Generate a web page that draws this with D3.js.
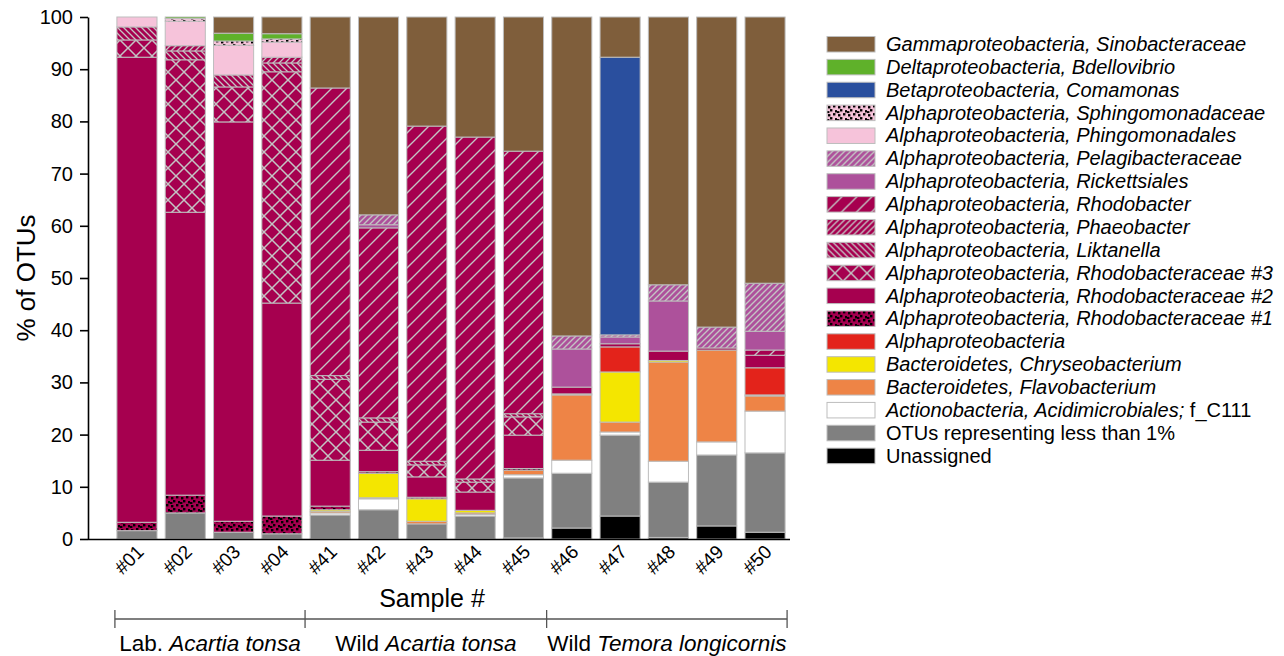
<!DOCTYPE html>
<html>
<head>
<meta charset="utf-8">
<script src="https://cdn.jsdelivr.net/npm/d3@7"></script>
<style>
  body { margin: 0; background: #fff; }
  svg text { font-family: "Liberation Sans", Arial, sans-serif; fill: #000; }
</style>
</head>
<body>
<svg id="chart" width="1284" height="656"></svg>
<script>
// samples along x
var samples = ["#01", "#02", "#03", "#04", "#41", "#42", "#43", "#44", "#45", "#46", "#47", "#48", "#49", "#50"];
var yTicks = [0, 10, 20, 30, 40, 50, 60, 70, 80, 90, 100];

// % of OTUs per sample, one array per taxon (stack order bottom -> top)
var unassigned        = [0, 0, 0, 0, 0, 0, 0, 0, 0.2, 2.1, 4.4, 0.3, 2.5, 1.3];
var otusLess1         = [1.6, 5.0, 1.3, 1.0, 4.6, 5.6, 2.9, 4.4, 11.5, 10.5, 15.5, 10.6, 13.6, 15.2];
var acidimicrobiales  = [0, 0, 0, 0, 0.4, 2.1, 0, 0.3, 0.6, 2.5, 0.6, 4.0, 2.5, 8.0];
var flavobacterium    = [0, 0, 0, 0, 0.3, 0.2, 0.5, 0.3, 0.9, 12.5, 1.9, 19.0, 17.6, 2.9];
var chryseobacterium  = [0, 0, 0, 0, 0.3, 4.7, 4.3, 0.5, 0, 0.2, 9.6, 0.3, 0, 0.2];
var alphaproteo       = [0, 0, 0, 0, 0, 0, 0, 0, 0, 0, 4.8, 0, 0, 5.2];
var rhodobacteraceae1 = [1.6, 3.4, 2.1, 3.4, 0.7, 0.3, 0.3, 0, 0.3, 0, 0, 0, 0, 0];
var rhodobacteraceae2 = [89.1, 54.2, 76.5, 40.8, 8.8, 4.1, 3.9, 3.5, 6.4, 1.3, 0.6, 1.8, 0.4, 2.4];
var rhodobacteraceae3 = [3.3, 29.2, 6.7, 44.3, 15.5, 5.4, 2.3, 1.9, 3.5, 0, 0, 0, 0, 0];
var liktanella        = [2.5, 1.7, 2.3, 1.7, 0.7, 0.8, 0.7, 0.6, 0.6, 0, 0, 0, 0, 0];
var phaeobacter       = [0, 1.0, 0, 1.1, 0, 0, 0, 0, 0, 0, 0, 0, 0, 0];
var rhodobacter       = [0, 0, 0, 0, 55.1, 36.4, 64.2, 65.5, 50.3, 0, 0, 0, 0, 1.0];
var rickettsiales     = [0, 0, 0, 0, 0, 0.6, 0, 0, 0, 7.3, 1.3, 9.6, 0, 3.6];
var pelagibacteraceae = [0, 0, 0, 0, 0, 1.9, 0, 0, 0, 2.5, 0.4, 3.1, 4.0, 9.2];
var phingomonadales   = [1.9, 4.7, 5.7, 2.9, 0, 0, 0, 0, 0, 0, 0, 0, 0, 0];
var sphingomonadaceae = [0, 0.5, 0.8, 0.6, 0, 0, 0, 0, 0, 0, 0, 0, 0, 0];
var comamonas         = [0, 0, 0, 0, 0, 0, 0, 0, 0, 0, 53.2, 0, 0, 0];
var bdellovibrio      = [0, 0.3, 1.5, 1.0, 0, 0, 0, 0, 0, 0, 0, 0, 0, 0];
var sinobacteraceae   = [0, 0, 3.1, 3.2, 13.6, 37.9, 20.9, 23.0, 25.7, 61.1, 7.7, 51.3, 59.4, 51.0];

var groupNames = ["Lab.|Acartia tonsa", "Wild|Acartia tonsa", "Wild|Temora longicornis"];
var groupEnds = ["#04", "#45", "#50"];

// legend order (top -> bottom); label parts: [italic, normal]
var taxa = [
  {key: "gamma", vals: sinobacteraceae, fill: "#7f5e3b", label: ["Gammaproteobacteria, Sinobacteraceae", ""]},
  {key: "delta", vals: bdellovibrio, fill: "#5fb12a", label: ["Deltaproteobacteria, Bdellovibrio", ""]},
  {key: "beta", vals: comamonas, fill: "#2a4f9e", label: ["Betaproteobacteria, Comamonas", ""]},
  {key: "sphingo", vals: sphingomonadaceae, fill: "url(#p-sphingo)", label: ["Alphaproteobacteria, Sphingomonadaceae", ""]},
  {key: "phingo", vals: phingomonadales, fill: "#f6c3da", label: ["Alphaproteobacteria, Phingomonadales", ""]},
  {key: "pelagi", vals: pelagibacteraceae, fill: "url(#p-pelagi)", label: ["Alphaproteobacteria, Pelagibacteraceae", ""]},
  {key: "ricket", vals: rickettsiales, fill: "#ad519b", label: ["Alphaproteobacteria, Rickettsiales", ""]},
  {key: "rhodobacter", vals: rhodobacter, fill: "url(#p-rhodobacter)", label: ["Alphaproteobacteria, Rhodobacter", ""]},
  {key: "phaeo", vals: phaeobacter, fill: "url(#p-phaeo)", label: ["Alphaproteobacteria, Phaeobacter", ""]},
  {key: "likt", vals: liktanella, fill: "url(#p-likt)", label: ["Alphaproteobacteria, Liktanella", ""]},
  {key: "rh3", vals: rhodobacteraceae3, fill: "url(#p-cross)", label: ["Alphaproteobacteria, Rhodobacteraceae #3", ""]},
  {key: "rh2", vals: rhodobacteraceae2, fill: "#a6004f", label: ["Alphaproteobacteria, Rhodobacteraceae #2", ""]},
  {key: "rh1", vals: rhodobacteraceae1, fill: "url(#p-rh1)", label: ["Alphaproteobacteria, Rhodobacteraceae #1", ""]},
  {key: "alpha", vals: alphaproteo, fill: "#e3231b", label: ["Alphaproteobacteria", ""]},
  {key: "chryseo", vals: chryseobacterium, fill: "#f4e600", label: ["Bacteroidetes, Chryseobacterium", ""]},
  {key: "flavo", vals: flavobacterium, fill: "#ee8446", label: ["Bacteroidetes, Flavobacterium", ""]},
  {key: "acid", vals: acidimicrobiales, fill: "#ffffff", label: ["Actionobacteria, Acidimicrobiales;", " f_C111"]},
  {key: "otus", vals: otusLess1, fill: "#808080", label: ["", "OTUs representing less than 1%"]},
  {key: "unas", vals: unassigned, fill: "#000000", label: ["", "Unassigned"]}
];

var svg = d3.select("#chart");
var magenta = "#a6004f", hatch = "#c4c4c4";
var defs = svg.append("defs");

function linePattern(id, size, bg, d, col, w) {
  var p = defs.append("pattern").attr("id", id).attr("patternUnits", "userSpaceOnUse")
    .attr("width", size).attr("height", size);
  p.append("rect").attr("width", size).attr("height", size).attr("fill", bg);
  p.append("path").attr("d", d).attr("stroke", col).attr("stroke-width", w).attr("fill", "none");
}
function fwd(s) { return "M" + (-s/2) + "," + (s/2) + "L" + (s/2) + "," + (-s/2) + "M0," + s + "L" + s + ",0M" + (s/2) + "," + (s*1.5) + "L" + (s*1.5) + "," + (s/2); }
function back(s) { return "M" + (-s/2) + "," + (s/2) + "L" + (s/2) + "," + (s*1.5) + "M0,0L" + s + "," + s + "M" + (s/2) + "," + (-s/2) + "L" + (s*1.5) + "," + (s/2); }

linePattern("p-rhodobacter", 15, magenta, fwd(15), hatch, 1.4);
linePattern("p-phaeo", 6, magenta, fwd(6), hatch, 1.3);
linePattern("p-likt", 6, magenta, back(6), hatch, 1.3);
linePattern("p-pelagi", 6, "#ad519b", fwd(6), hatch, 1.4);
linePattern("p-cross", 16, magenta, fwd(16) + back(16), hatch, 1.5);

function dotPattern(id, bg) {
  var p = defs.append("pattern").attr("id", id).attr("patternUnits", "userSpaceOnUse")
    .attr("width", 10).attr("height", 8);
  p.append("rect").attr("width", 10).attr("height", 8).attr("fill", bg);
  [[1, 1], [6, 0], [3, 4], [8, 5], [0, 6]].forEach(function(q) {
    p.append("rect").attr("x", q[0]).attr("y", q[1]).attr("width", 2.4).attr("height", 2.4).attr("fill", "#000");
  });
}
dotPattern("p-rh1", magenta);
dotPattern("p-sphingo", "#f6c3da");

var y = d3.scaleLinear().domain([0, 100]).range([539, 17]);
var x = d3.scaleBand().domain(samples).range([112.8, 789.2]).paddingInner(0.17).paddingOuter(0.085);

// stack, bottom -> top is reverse of legend
var stackOrder = taxa.slice().reverse();
var rows = samples.map(function(s, i) {
  var r = {sample: s};
  stackOrder.forEach(function(t) { r[t.key] = t.vals[i]; });
  return r;
});
var series = d3.stack().keys(stackOrder.map(function(t) { return t.key; }))(rows);
var fillOf = {};
taxa.forEach(function(t) { fillOf[t.key] = t.fill; });

svg.append("g").selectAll("g").data(series).enter().append("g")
  .attr("fill", function(d) { return fillOf[d.key]; })
  .selectAll("rect").data(function(d) { return d.filter(function(v) { return v[1] - v[0] > 0; }); })
  .enter().append("rect")
  .attr("x", function(d) { return x(d.data.sample); })
  .attr("width", x.bandwidth())
  .attr("y", function(d) { return y(d[1]); })
  .attr("height", function(d) { return y(d[0]) - y(d[1]); })
  .attr("stroke", "#bdbdbd")
  .attr("stroke-width", 1);

// y axis
var yAxis = svg.append("g").attr("transform", "translate(88,0)")
  .call(d3.axisLeft(y).tickValues(yTicks).tickSize(8).tickSizeOuter(0).tickPadding(7));
yAxis.select(".domain").attr("stroke", "#000").attr("stroke-width", 1.6);
yAxis.selectAll(".tick line").attr("stroke", "#000").attr("stroke-width", 1.6);
yAxis.selectAll("text").attr("font-size", 20).attr("font-family", "Liberation Sans, Arial, sans-serif");

// x axis line
svg.append("line").attr("x1", 88).attr("x2", 790).attr("y1", 539.5).attr("y2", 539.5)
  .attr("stroke", "#000").attr("stroke-width", 1.6);

// sample labels
svg.append("g").selectAll("text").data(samples).enter().append("text")
  .attr("text-anchor", "end")
  .attr("font-size", 19)
  .attr("transform", function(d) { return "translate(" + (x(d) + x.bandwidth() / 2 + 8) + ",553) rotate(-45)"; })
  .text(function(d) { return d; });

svg.append("text").attr("x", 432).attr("y", 607).attr("text-anchor", "middle").attr("font-size", 25).text("Sample #");
svg.append("text").attr("transform", "translate(35,278) rotate(-90)").attr("text-anchor", "middle").attr("font-size", 26).text("% of OTUs");

// group brackets
var bx = [x(samples[0]) - 2];
groupEnds.forEach(function(s, i) {
  var k = samples.indexOf(s);
  if (k < samples.length - 1) bx.push((x(s) + x.bandwidth() + x(samples[k + 1])) / 2 - 1);
  else bx.push(x(s) + x.bandwidth() + 2);
});
var br = svg.append("g").attr("stroke", "#555").attr("stroke-width", 1.3);
br.append("line").attr("x1", bx[0]).attr("x2", bx[bx.length - 1]).attr("y1", 619).attr("y2", 619);
bx.forEach(function(v) { br.append("line").attr("x1", v).attr("x2", v).attr("y1", 610).attr("y2", 628); });
groupNames.forEach(function(g, i) {
  var parts = g.split("|");
  var t = svg.append("text").attr("x", (bx[i] + bx[i + 1]) / 2).attr("y", 651)
    .attr("text-anchor", "middle").attr("font-size", 22.5);
  t.append("tspan").text(parts[0] + " ");
  t.append("tspan").attr("font-style", "italic").text(parts[1]);
});

// legend
var lg = svg.append("g");
var item = lg.selectAll("g").data(taxa).enter().append("g")
  .attr("transform", function(d, i) { return "translate(827," + (36.5 + i * 22.87) + ")"; });
item.append("rect").attr("width", 48).attr("height", 15.5)
  .attr("fill", function(d) { return d.fill; })
  .attr("stroke", "#bdbdbd").attr("stroke-width", 1);
var lt = item.append("text").attr("x", 59).attr("y", 14.5).attr("font-size", 20);
lt.append("tspan").attr("font-style", "italic").text(function(d) { return d.label[0]; });
lt.append("tspan").text(function(d) { return d.label[1]; });
</script>
</body>
</html>
